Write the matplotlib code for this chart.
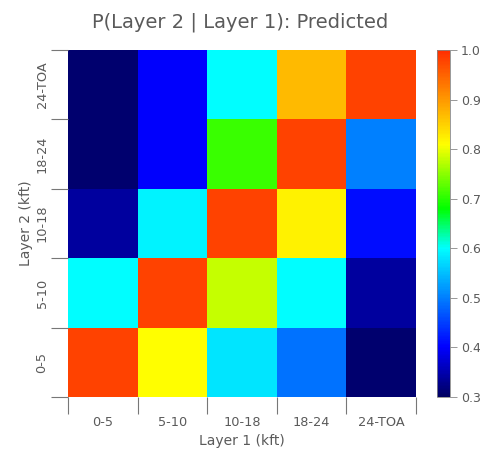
import numpy as np
import matplotlib
matplotlib.use("Agg")
import matplotlib.pyplot as plt
from matplotlib.colors import LinearSegmentedColormap

layer1 = ["0-5", "5-10", "10-18", "18-24", "24-TOA"]
layer2 = ["0-5", "5-10", "10-18", "18-24", "24-TOA"]

# rows: Layer 2 (bottom to top), columns: Layer 1
row_0_5 = [0.98, 0.81, 0.58, 0.49, 0.31]
row_5_10 = [0.60, 0.98, 0.78, 0.60, 0.34]
row_10_18 = [0.34, 0.59, 0.98, 0.82, 0.41]
row_18_24 = [0.31, 0.40, 0.71, 0.98, 0.50]
row_24_toa = [0.31, 0.40, 0.60, 0.87, 0.98]

cbar_ticks = [0.3, 0.4, 0.5, 0.6, 0.7, 0.8, 0.9, 1.0]

prob = np.array([row_0_5, row_5_10, row_10_18, row_18_24, row_24_toa])

vmin, vmax = 0.3, 1.0
anchors = [
    (0.30, (0.0, 0.0, 0.38)),
    (0.40, (0.0, 0.0, 1.0)),
    (0.50, (0.0, 0.5, 1.0)),
    (0.60, (0.0, 1.0, 1.0)),
    (0.68, (0.0, 1.0, 0.0)),
    (0.81, (1.0, 1.0, 0.0)),
    (0.90, (1.0, 0.6, 0.0)),
    (1.00, (1.0, 0.18, 0.0)),
]
cmap = LinearSegmentedColormap.from_list(
    "rainbow_idl", [((v - vmin) / (vmax - vmin), c) for v, c in anchors])

txt = "#5a5a5a"
plt.rcParams["font.family"] = ["DejaVu Sans"]

fig = plt.figure(figsize=(4.81, 4.5), dpi=100)
ax = fig.add_axes([68 / 481, 1 - 397 / 450, 348 / 481, 347 / 450])
cax = fig.add_axes([437 / 481, 1 - 397 / 450, 13 / 481, 347 / 450])

edges = np.arange(len(layer1) + 1)
mesh = ax.pcolormesh(edges, edges, prob, cmap=cmap, vmin=vmin, vmax=vmax)
ax.set_xlim(0, len(layer1))
ax.set_ylim(0, len(layer2))

centers = np.arange(len(layer1)) + 0.5
ax.set_xticks(centers)
ax.set_xticklabels(layer1)
ax.set_yticks(centers)
ax.set_yticklabels(layer2, rotation=90, va="center")
ax.tick_params(axis="both", which="major", length=0, labelsize=9.3,
               labelcolor=txt, pad=14)
ax.set_xticks(edges, minor=True)
ax.set_yticks(edges, minor=True)
ax.tick_params(axis="both", which="minor", length=12, width=0.8,
               color="#777777", direction="out")
for s in ax.spines.values():
    s.set_visible(False)

ax.set_xlabel("Layer 1 (kft)", fontsize=10, color=txt, labelpad=3)
ax.set_ylabel("Layer 2 (kft)", fontsize=10, color=txt, labelpad=2)
fig.text(0.5, 1 - 22 / 450, "P(Layer 2 | Layer 1): Predicted",
         ha="center", va="center", fontsize=14, color=txt)

cb = fig.colorbar(mesh, cax=cax)
cb.set_ticks(cbar_ticks)
cb.set_ticklabels([f"{t:.1f}" for t in cbar_ticks])
cb.outline.set_edgecolor("#888888")
cb.outline.set_linewidth(0.6)
cax.tick_params(length=5, width=0.6, color="#888888", labelsize=9,
                labelcolor=txt, pad=3)

fig.savefig("out.png", dpi=100)
